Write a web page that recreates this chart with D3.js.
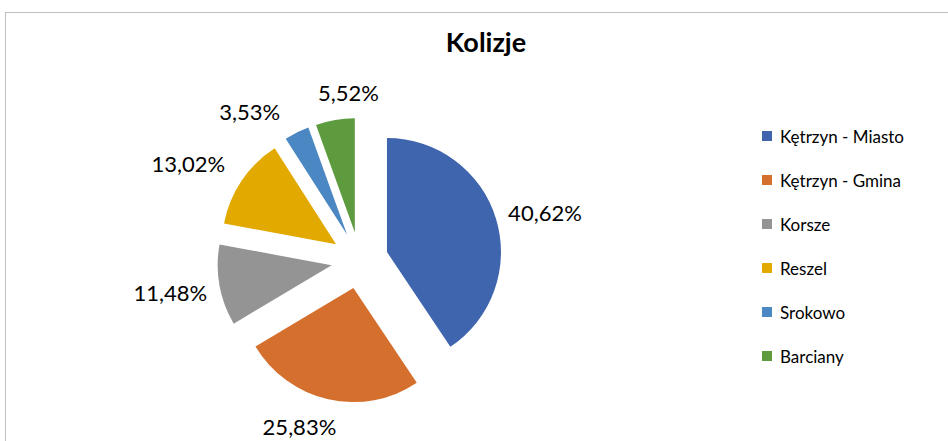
<!DOCTYPE html>
<html>
<head>
<meta charset="utf-8">
<script src="https://cdn.jsdelivr.net/npm/d3@7"></script>
<style>
  body { margin: 0; background: #fff; }
  text { font-family: Lato, "Open Sans", sans-serif; fill: #000; }
</style>
</head>
<body>
<div id="chart"></div>
<script>
// chart data
let categories = ["Kętrzyn - Miasto", "Kętrzyn - Gmina", "Korsze", "Reszel", "Srokowo", "Barciany"];
let shares = [40.62, 25.83, 11.48, 13.02, 3.53, 5.52];
let percentLabels = ["40,62%", "25,83%", "11,48%", "13,02%", "3,53%", "5,52%"];
let colors = ["#3f65ae", "#d46f2d", "#949494", "#e2aa00", "#4b87c2", "#5e9a3e"];

let svgWidth = 948;
let svgHeight = 441;

let svg = d3.select("#chart")
    .append("svg")
    .attr("width", svgWidth)
    .attr("height", svgHeight);

// chart area border
svg.append("rect")
    .attr("x", 5.5)
    .attr("y", 12.5)
    .attr("width", 1000)
    .attr("height", 500)
    .attr("fill", "none")
    .attr("stroke", "#bfbfbf")
    .attr("stroke-width", 1);

// title
svg.append("text")
    .attr("x", 486)
    .attr("y", 52)
    .attr("text-anchor", "middle")
    .attr("font-size", 27)
    .attr("font-weight", "bold")
    .text("Kolizje");

let cx = 359.7, cy = 260.3;
let radius = 114;
let explode = 28.5;

let pie = d3.pie().sort(null).value(d => d.value);
let arc = d3.arc().innerRadius(0).outerRadius(radius);

let rows = categories.map((c, i) => ({ name: c, value: shares[i], label: percentLabels[i], color: colors[i] }));
let arcs = pie(rows);

// direction of the middle of a slice (0 = up, clockwise)
function dir(d) {
    let a = (d.startAngle + d.endAngle) / 2;
    return [Math.sin(a), -Math.cos(a)];
}

let pieGroup = svg.append("g")
    .attr("transform", `translate(${cx}, ${cy})`);

pieGroup.selectAll("path")
    .data(arcs)
    .enter()
    .append("path")
    .attr("d", arc)
    .attr("fill", d => d.data.color)
    .attr("transform", d => {
        let v = dir(d);
        return `translate(${v[0] * explode}, ${v[1] * explode})`;
    });

// small nudges so labels sit where excel placed them
let labelNudge = {
    "Kętrzyn - Miasto": [6, 0],
    "Kętrzyn - Gmina": [-19, 6],
    "Korsze": [-5, 3],
    "Reszel": [-16, -5],
    "Srokowo": [-30, -2],
    "Barciany": [20, -6]
};

let labels = pieGroup.selectAll(".pct")
    .data(arcs)
    .enter()
    .append("text")
    .attr("class", "pct")
    .attr("font-size", 22)
    .attr("text-anchor", "middle")
    .attr("dominant-baseline", "central")
    .text(d => d.data.label);

labels.each(function(d) {
    let box = this.getBBox();
    let v = dir(d);
    let r = radius + explode + 8;
    let n = labelNudge[d.data.name];
    let x = v[0] * r + v[0] * box.width / 2 + n[0];
    let y = v[1] * r + v[1] * box.height / 2 + n[1];
    d3.select(this).attr("x", x).attr("y", y);
});

// legend
let legend = svg.append("g")
    .attr("transform", "translate(762, 136)");

let item = legend.selectAll(".item")
    .data(rows)
    .enter()
    .append("g")
    .attr("class", "item")
    .attr("transform", (d, i) => `translate(0, ${i * 44})`);

item.append("rect")
    .attr("x", 0)
    .attr("y", -5)
    .attr("width", 10)
    .attr("height", 10)
    .attr("fill", d => d.color);

item.append("text")
    .attr("x", 18)
    .attr("y", 0)
    .attr("dominant-baseline", "central")
    .attr("font-size", 17)
    .text(d => d.name);
</script>
</body>
</html>
